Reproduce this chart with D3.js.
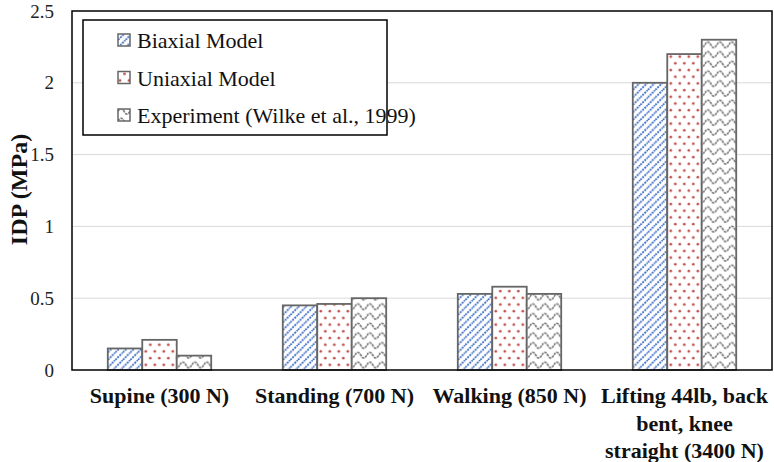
<!DOCTYPE html>
<html>
<head>
<meta charset="utf-8">
<script src="https://cdn.jsdelivr.net/npm/d3@7/dist/d3.min.js"></script>
<style>
  html, body { margin: 0; padding: 0; background: #fff; }
  svg { display: block; }
</style>
</head>
<body>
<svg id="chart" width="774" height="462"></svg>
<script>
// ---- data ----
const categories = ["Supine (300 N)", "Standing (700 N)", "Walking (850 N)", "Lifting 44lb, back\nbent, knee\nstraight (3400 N)"];
const seriesNames = ["Biaxial Model", "Uniaxial Model", "Experiment (Wilke et al., 1999)"];
const biaxial = [0.15, 0.45, 0.53, 2.0];
const uniaxial = [0.21, 0.46, 0.58, 2.2];
const experiment = [0.10, 0.50, 0.53, 2.3];
const yTicks = [0, 0.5, 1, 1.5, 2, 2.5];
const yTickLabels = ["0", "0.5", "1", "1.5", "2", "2.5"];
const yTitle = "IDP (MPa)";

const seriesValues = [biaxial, uniaxial, experiment];
const patternIds = ["pBiax", "pUni", "pExp"];

// ---- layout ----
const svg = d3.select("#chart");
const L = 72, R = 772, T = 11, B = 370;
const serif = "'Liberation Serif', 'Times New Roman', serif";

// ---- patterns ----
const defs = svg.append("defs");
const p1 = defs.append("pattern").attr("id", "pBiax").attr("patternUnits", "userSpaceOnUse")
  .attr("width", 7.5).attr("height", 7.5);
p1.append("rect").attr("width", 7.5).attr("height", 7.5).attr("fill", "#fff");
p1.append("path").attr("d", "M-2,2 L2,-2 M0,7.5 L7.5,0 M5.5,9.5 L9.5,5.5")
  .attr("stroke", "#3F6FC6").attr("stroke-width", 1.8).attr("stroke-dasharray", "2,1");

const p2 = defs.append("pattern").attr("id", "pUni").attr("patternUnits", "userSpaceOnUse")
  .attr("width", 9).attr("height", 13.4);
p2.append("rect").attr("width", 9).attr("height", 13.4).attr("fill", "#fff");
p2.append("circle").attr("cx", 2).attr("cy", 3).attr("r", 1.3).attr("fill", "#C0504D");
p2.append("circle").attr("cx", 6.5).attr("cy", 9.7).attr("r", 1.3).attr("fill", "#C0504D");

const p3 = defs.append("pattern").attr("id", "pExp").attr("patternUnits", "userSpaceOnUse")
  .attr("width", 12).attr("height", 9.7);
p3.append("rect").attr("width", 12).attr("height", 9.7).attr("fill", "#fff");
p3.append("path").attr("d", "M0,6 Q3,0.5 6,6 T12,6")
  .attr("fill", "none").attr("stroke", "#7A7A7A").attr("stroke-width", 1.7).attr("stroke-dasharray", "2.6,0.9");

// ---- scales ----
const y = d3.scaleLinear().domain([0, 2.5]).range([B, T]);
const x0 = d3.scaleBand().domain(categories).range([L, R]).paddingInner(0.409).paddingOuter(0.2045);
const x1 = d3.scaleBand().domain(d3.range(seriesNames.length)).range([0, x0.bandwidth()]);

// ---- gridlines ----
svg.append("g").selectAll("line").data(yTicks.filter(t => t > 0 && t < 2.5)).join("line")
  .attr("x1", L).attr("x2", R).attr("y1", d => y(d)).attr("y2", d => y(d))
  .attr("stroke", "#D9D9D9").attr("stroke-width", 1);

// ---- bars ----
const groups = svg.append("g").selectAll("g").data(categories).join("g")
  .attr("transform", d => `translate(${x0(d)},0)`);
groups.selectAll("rect").data((d, i) => seriesValues.map((s, j) => ({ j, v: s[i] }))).join("rect")
  .attr("x", d => x1(d.j)).attr("width", x1.bandwidth())
  .attr("y", d => y(d.v)).attr("height", d => y(0) - y(d.v))
  .attr("fill", d => `url(#${patternIds[d.j]})`)
  .attr("stroke", "#666").attr("stroke-width", 1.8);

// ---- frame ----
svg.append("rect").attr("x", L).attr("y", T).attr("width", R - L).attr("height", B - T)
  .attr("fill", "none").attr("stroke", "#000").attr("stroke-width", 1.5);

// ---- y axis ----
const yAxis = d3.axisLeft(y).tickValues(yTicks).tickSize(0).tickPadding(18)
  .tickFormat((d, i) => yTickLabels[i]);
const ya = svg.append("g").attr("transform", `translate(${L},0)`).call(yAxis);
ya.select(".domain").remove();
ya.selectAll("text").attr("font-family", serif).attr("font-size", 19).attr("fill", "#222");

svg.append("text").attr("transform", `translate(19,${(T + B) / 2 - 1}) rotate(-90)`)
  .attr("text-anchor", "middle").attr("dominant-baseline", "central")
  .attr("font-family", serif).attr("font-weight", "bold").attr("font-size", 24).attr("fill", "#111")
  .text(yTitle);

// ---- x axis labels ----
const xAxis = d3.axisBottom(x0).tickSize(0).tickPadding(0).tickFormat("");
const xa = svg.append("g").attr("transform", `translate(0,${B})`).call(xAxis);
xa.select(".domain").remove();
xa.selectAll(".tick").each(function(d) {
  const lines = d.split("\n");
  const t = d3.select(this).append("text").attr("text-anchor", "middle")
    .attr("font-family", serif).attr("font-weight", "bold").attr("font-size", 22).attr("fill", "#111");
  lines.forEach((ln, k) => {
    t.append("tspan").attr("x", 0).attr("y", 33 + k * 27.5).text(ln);
  });
});

// ---- legend ----
const leg = svg.append("g");
leg.append("rect").attr("x", 83).attr("y", 20).attr("width", 304).attr("height", 115)
  .attr("fill", "#fff").attr("stroke", "#000").attr("stroke-width", 1.5);
const items = leg.selectAll("g.item").data(seriesNames).join("g").attr("class", "item")
  .attr("transform", (d, i) => `translate(118,${40 + i * 37.5})`);
items.append("rect").attr("x", 0).attr("y", -6).attr("width", 12).attr("height", 12)
  .attr("fill", (d, i) => `url(#${patternIds[i]})`).attr("stroke", "#666").attr("stroke-width", 1.5);
items.append("text").attr("x", 19).attr("y", 8)
  .attr("font-family", serif).attr("font-size", 22).attr("fill", "#111")
  .text(d => d);
</script>
</body>
</html>
